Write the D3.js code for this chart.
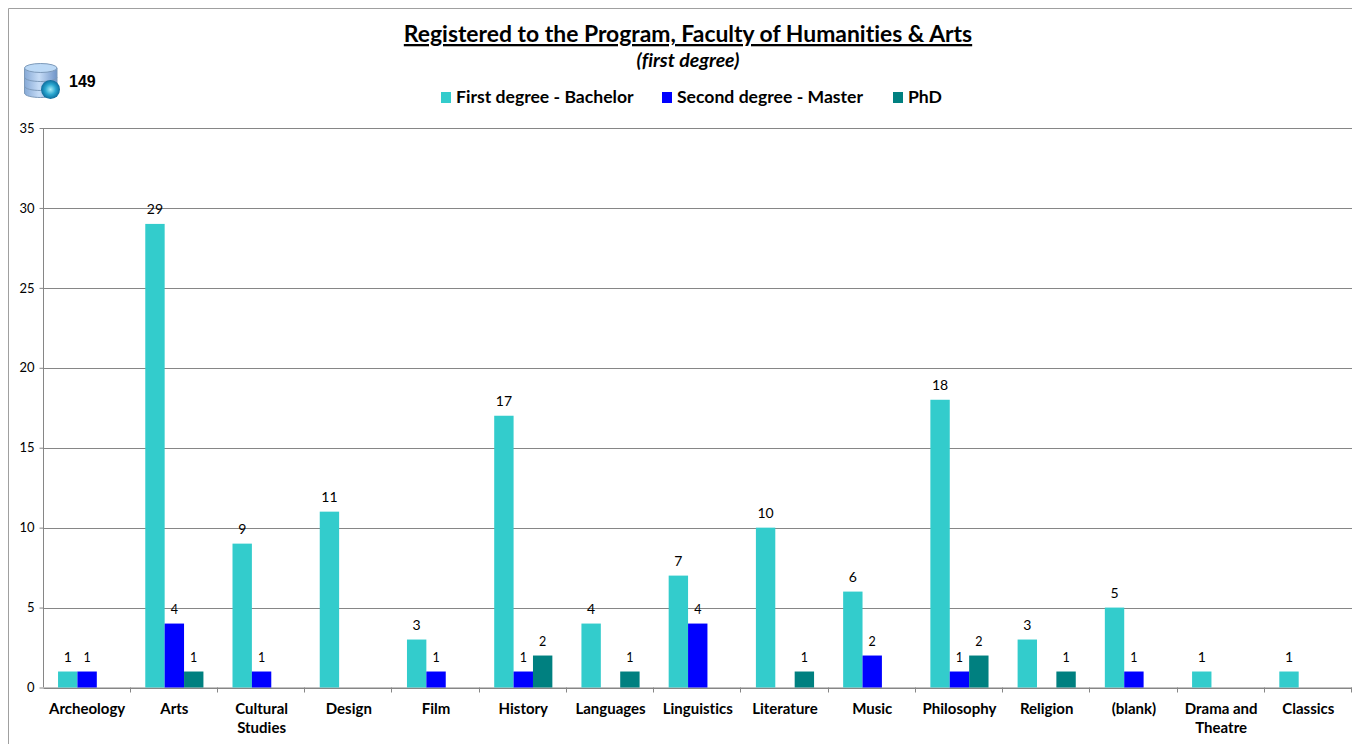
<!DOCTYPE html>
<html>
<head>
<meta charset="utf-8">
<script src="https://cdn.jsdelivr.net/npm/d3@7"></script>
<style>
	html, body { margin: 0; padding: 0; background: #fff; }
	svg { display: block; }
	text { font-family: Lato, "Open Sans", sans-serif; fill: #000; font-variant-ligatures: none; }
</style>
</head>
<body>
<div id="canvas"></div>
<script>
const categories = ["Archeology", "Arts", "Cultural Studies", "Design", "Film", "History", "Languages", "Linguistics", "Literature", "Music", "Philosophy", "Religion", "(blank)", "Drama and Theatre", "Classics"];
const bachelor = [1, 29, 9, 11, 3, 17, 4, 7, 10, 6, 18, 3, 5, 1, 1];
const master = [1, 4, 1, null, 1, 1, null, 4, null, 2, 1, null, 1, null, null];
const phd = [null, 1, null, null, null, 2, 1, null, 1, null, 2, 1, null, null, null];
const seriesNames = ["First degree - Bachelor", "Second degree - Master", "PhD"];
const seriesValues = [bachelor, master, phd];
const seriesColors = ["#33cccc", "#0000ff", "#008080"];
const yTicks = [0, 5, 10, 15, 20, 25, 30, 35];
const total = 149;

// 1. Dimensions

const width = 1352;
const height = 744;
const plotLeft = 43.5;
const plotRight = 1352;
const plotTop = 128;
const plotBottom = 687.5;

// 2. Canvas

const canvas = d3.select("#canvas")
	.append("svg")
	.attr("width", width)
	.attr("height", height);

// chart frame
canvas.append("path")
	.attr("d", `M8.5,${height} V8.5 H${width}`)
	.attr("fill", "none")
	.attr("stroke", "#a0a0a0");

// 3. Scales

const x = d3.scaleBand()
	.domain(categories)
	.range([plotLeft, plotRight]);

const xInner = d3.scaleBand()
	.domain(d3.range(seriesNames.length))
	.range([x.bandwidth() / 6, x.bandwidth() * 5 / 6]);

const y = d3.scaleLinear()
	.domain([0, 35])
	.range([plotBottom, plotTop]);

// 4. Axes and gridlines

const yAxis = d3.axisLeft(y)
	.tickValues(yTicks)
	.tickSize(4)
	.tickPadding(5);

const yAxisGroup = canvas.append("g")
	.attr("transform", `translate(${plotLeft},0)`)
	.call(yAxis);
yAxisGroup.select(".domain").attr("stroke", "#868686").attr("d", `M0,${plotTop}V${plotBottom}`);
yAxisGroup.selectAll(".tick line").attr("stroke", "#868686");
yAxisGroup.selectAll(".tick text")
	.attr("font-size", 13)
	.style("font-family", "Lato, sans-serif")
	.attr("fill", "#000");

canvas.append("g")
	.selectAll("line")
	.data(yTicks)
	.enter()
	.append("line")
	.attr("x1", plotLeft)
	.attr("x2", plotRight)
	.attr("y1", d => Math.round(y(d)) + 0.5)
	.attr("y2", d => Math.round(y(d)) + 0.5)
	.attr("stroke", "#868686");

const xAxis = d3.axisBottom(x)
	.tickValues([])
	.tickSizeOuter(0);
const xAxisGroup = canvas.append("g")
	.attr("transform", `translate(0,${plotBottom})`)
	.call(xAxis);
xAxisGroup.select(".domain").attr("stroke", "#868686");

// tick marks fall between the categories, not at their centres
canvas.append("g")
	.selectAll("line")
	.data(categories)
	.enter()
	.append("line")
	.attr("x1", d => Math.round(x(d) + x.bandwidth()) - 0.5)
	.attr("x2", d => Math.round(x(d) + x.bandwidth()) - 0.5)
	.attr("y1", plotBottom)
	.attr("y2", plotBottom + 5)
	.attr("stroke", "#868686");

// category labels, wrapped on two lines when they are long
const wrapped = { "Cultural Studies": ["Cultural", "Studies"], "Drama and Theatre": ["Drama and", "Theatre"] };
const labelGroups = canvas.append("g")
	.selectAll("text")
	.data(categories)
	.enter()
	.append("text")
	.attr("text-anchor", "middle")
	.attr("font-size", 15)
	.attr("font-weight", 700);
labelGroups.selectAll("tspan")
	.data(d => (wrapped[d] || [d]).map(line => ({ line, cat: d })))
	.enter()
	.append("tspan")
	.attr("x", d => x(d.cat) + x.bandwidth() / 2)
	.attr("y", (d, i) => 714 + i * 19)
	.text(d => d.line);

// 5. Bars and data labels

const seriesGroups = canvas.append("g")
	.selectAll("g")
	.data(seriesValues)
	.enter()
	.append("g")
	.attr("fill", (d, i) => seriesColors[i]);

seriesValues.forEach((values, s) => {
	const group = seriesGroups.filter((d, i) => i === s);
	const rows = categories.map((c, i) => ({ c, v: values[i] })).filter(d => d.v !== null);

	group.selectAll("rect")
		.data(rows)
		.enter()
		.append("rect")
		.attr("x", d => x(d.c) + xInner(s))
		.attr("y", d => y(d.v))
		.attr("width", xInner.bandwidth())
		.attr("height", d => plotBottom - y(d.v));

	group.selectAll("text")
		.data(rows)
		.enter()
		.append("text")
		.attr("x", d => x(d.c) + xInner(s) + xInner.bandwidth() / 2)
		.attr("y", d => y(d.v) - 10)
		.attr("text-anchor", "middle")
		.attr("font-size", s === 0 ? 14 : 12.5)
		.text(d => d.v);
});

// 6. Title and legend

canvas.append("text")
	.attr("x", 688)
	.attr("y", 42)
	.attr("text-anchor", "middle")
	.attr("font-size", 22.9)
	.attr("font-weight", 700)
	.attr("text-decoration", "underline")
	.text("Registered to the Program, Faculty of Humanities & Arts");

canvas.append("text")
	.attr("x", 688)
	.attr("y", 67)
	.attr("text-anchor", "middle")
	.attr("font-size", 19.5)
	.attr("font-weight", 700)
	.attr("font-style", "italic")
	.text("(first degree)");

const legendSwatchX = [441, 662, 893];
const legend = canvas.append("g")
	.selectAll("g")
	.data(seriesNames)
	.enter()
	.append("g")
	.attr("transform", (d, i) => `translate(${legendSwatchX[i]},92)`);
legend.append("rect")
	.attr("width", 10)
	.attr("height", 11)
	.attr("fill", (d, i) => seriesColors[i]);
legend.append("text")
	.attr("x", 15)
	.attr("y", 11)
	.attr("font-size", 17.6)
	.attr("font-weight", 700)
	.text(d => d);

// 7. Database icon and the total

const defs = canvas.append("defs");
const bodyGradient = defs.append("linearGradient").attr("id", "dbBody");
bodyGradient.append("stop").attr("offset", "0%").attr("stop-color", "#86a9d6");
bodyGradient.append("stop").attr("offset", "45%").attr("stop-color", "#c6dcf6");
bodyGradient.append("stop").attr("offset", "100%").attr("stop-color", "#6f94c8");
const globeGradient = defs.append("radialGradient").attr("id", "dbGlobe");
globeGradient.append("stop").attr("offset", "0%").attr("stop-color", "#a8ecf7");
globeGradient.append("stop").attr("offset", "55%").attr("stop-color", "#2aa6cf");
globeGradient.append("stop").attr("offset", "100%").attr("stop-color", "#0d6c9c");

const icon = canvas.append("g").attr("transform", "translate(24,63)");
icon.append("path")
	.attr("d", "M0.5,5 V30 C0.5,36 33,36 33,30 V5 Z")
	.attr("fill", "url(#dbBody)")
	.attr("stroke", "#7d9aba");
icon.append("path")
	.attr("d", "M0.5,14 C0.5,20 33,20 33,14 M0.5,23 C0.5,29 33,29 33,23")
	.attr("fill", "none")
	.attr("stroke", "#7d9aba");
icon.append("ellipse")
	.attr("cx", 16.75)
	.attr("cy", 5)
	.attr("rx", 16.25)
	.attr("ry", 4.5)
	.attr("fill", "#bcd9f6")
	.attr("stroke", "#7d9aba");
icon.append("circle")
	.attr("cx", 26.5)
	.attr("cy", 26.5)
	.attr("r", 9.5)
	.attr("fill", "url(#dbGlobe)");

canvas.append("text")
	.attr("x", 69)
	.attr("y", 87)
	.attr("font-size", 16)
	.attr("font-weight", 700)
	.style("font-family", "'Liberation Sans', sans-serif")
	.text(total);
</script>
</body>
</html>
